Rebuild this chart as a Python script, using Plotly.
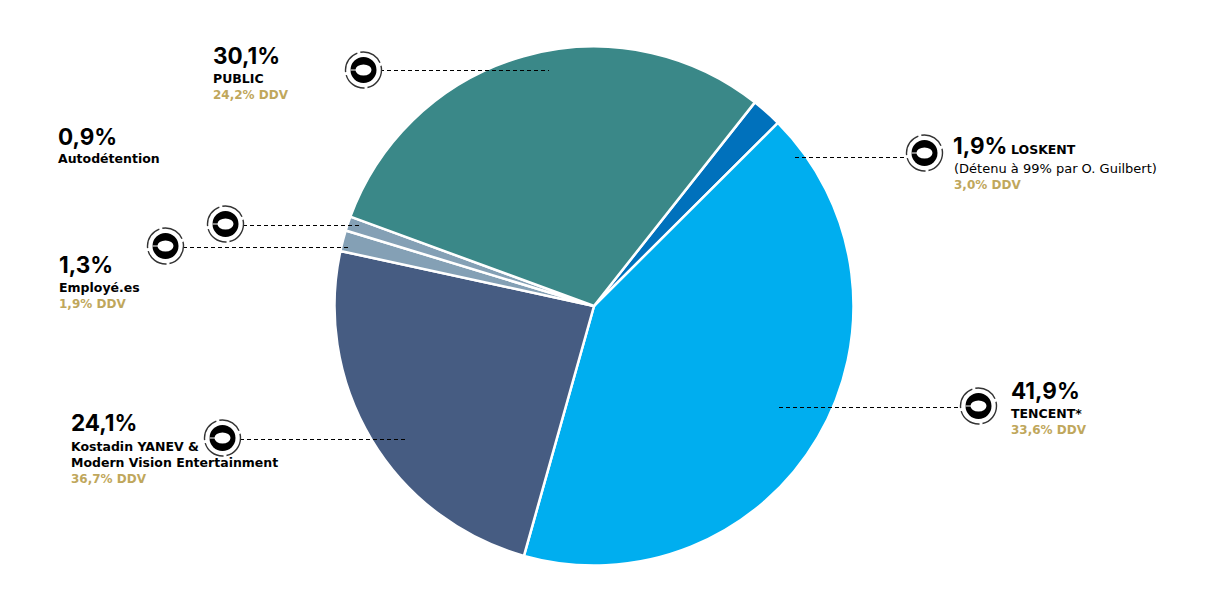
import plotly.graph_objects as go

W, H = 1216, 596

# slices, clockwise from the top right
holders = ['LOSKENT', 'TENCENT*', 'Kostadin YANEV & Modern Vision Entertainment', 'Employé.es', 'Autodétention', 'PUBLIC']
shares = [1.9, 41.9, 24.1, 1.3, 0.9, 30.1]
colors = ['#0071BC', '#00AEEF', '#465C82', '#84A0B5', '#84A0B5', '#3A8888']

BIG_FONT = 'Inter'
SMALL_FONT = 'DejaVu Sans'
GOLD = '#BFA75C'


def px(x):
    return x / W


def py(y):
    return 1 - y / H


cx, cy, r = 594, 306, 259.5

fig = go.Figure(go.Pie(
    labels=holders,
    values=shares,
    marker=dict(colors=colors, line=dict(color='white', width=2.5)),
    sort=False,
    direction='clockwise',
    rotation=38.3,
    textinfo='none',
    hoverinfo='label+value',
    showlegend=False,
    domain=dict(x=[px(cx - r), px(cx + r)], y=[py(cy + r), py(cy - r)]),
))

shapes = []


# target-like icon: broken outer ring, thick black ring, white centre with a tick
def icon(x, y):
    o = dict(xref='paper', yref='paper')
    shapes.append(dict(type='circle', x0=px(x - 18), x1=px(x + 18), y0=py(y + 18), y1=py(y - 18),
                       line=dict(color='#333333', width=1.4, dash='24px 3px'), fillcolor='white', **o))
    shapes.append(dict(type='circle', x0=px(x - 13), x1=px(x + 13), y0=py(y + 13), y1=py(y - 13),
                       line=dict(width=0), fillcolor='black', **o))
    shapes.append(dict(type='circle', x0=px(x - 8), x1=px(x + 8), y0=py(y + 5.5), y1=py(y - 5.5),
                       line=dict(width=0), fillcolor='white', **o))
    shapes.append(dict(type='line', x0=px(x - 13), x1=px(x - 7), y0=py(y), y1=py(y),
                       line=dict(color='white', width=1), **o))


# leader lines
leaders = [(380, 549, 70.5), (243, 361, 225.5), (183, 350, 247.5), (240, 408, 439.5), (795, 906, 157.5), (779, 960, 407.5)]
for x0, x1, y in leaders:
    shapes.append(dict(type='line', xref='paper', yref='paper', x0=px(x0), x1=px(x1), y0=py(y), y1=py(y),
                       line=dict(color='black', width=1, dash='4px 3px')))

for x, y in [(363.5, 70), (225.5, 224), (165.5, 246), (222.5, 438), (924.5, 153), (978.5, 406)]:
    icon(x, y)

annotations = []


def label(x, y, text, size, color='black', bold=True, family=SMALL_FONT):
    t = '<b>%s</b>' % text if bold else text
    annotations.append(dict(xref='paper', yref='paper', x=px(x), y=py(y), text=t, showarrow=False,
                            xanchor='left', yanchor='middle', borderpad=0, borderwidth=0,
                            font=dict(family=family, size=size, color=color)))


def big(x, y, text):
    label(x, y, text, 22.5, family=BIG_FONT)


big(213, 55, '30,1%')
label(213, 78.5, 'PUBLIC', 12.5)
label(213, 94.5, '24,2% DDV', 12, GOLD)

big(58, 136, '0,9%')
label(58, 158.5, 'Autodétention', 12.5)

big(59, 264, '1,3%')
label(59, 287.5, 'Employé.es', 12.5)
label(59, 303.5, '1,9% DDV', 12, GOLD)

big(71, 423, '24,1%')
label(71, 446.5, 'Kostadin YANEV &', 12.5)
label(71, 462.5, 'Modern Vision Entertainment', 12.5)
label(71, 478.5, '36,7% DDV', 12, GOLD)

big(953, 145, '1,9%')
label(1011, 149.5, 'LOSKENT', 12.5)
label(954, 168.5, '(Détenu à 99% par O. Guilbert)', 13, bold=False)
label(954, 184.5, '3,0% DDV', 12, GOLD)

big(1011, 390, '41,9%')
label(1011, 413.5, 'TENCENT*', 12.5)
label(1011, 429.5, '33,6% DDV', 12, GOLD)

fig.update_layout(
    width=W, height=H,
    margin=dict(l=0, r=0, t=0, b=0),
    paper_bgcolor='white',
    shapes=shapes,
    annotations=annotations,
)

fig.write_html('out.html', config=dict(displayModeBar=False), post_script="document.body.style.margin='0';")
